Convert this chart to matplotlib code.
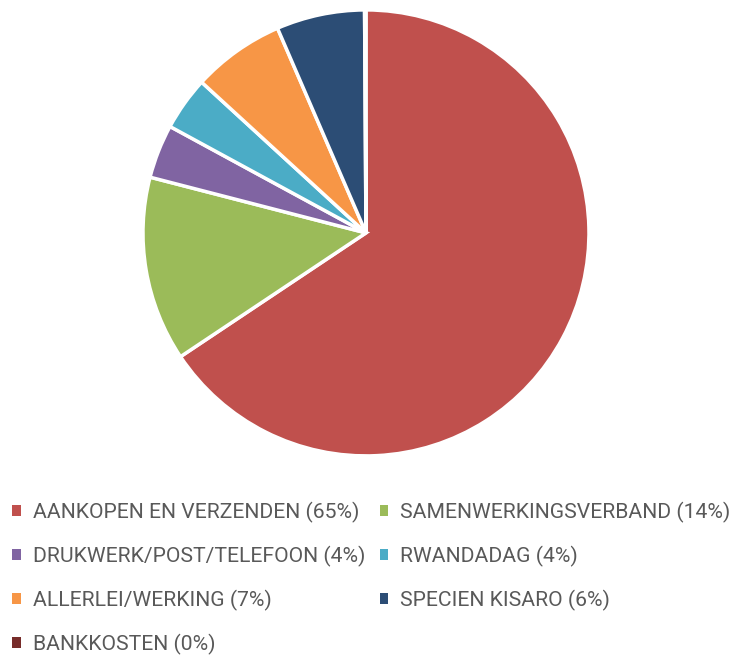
import matplotlib.pyplot as plt
from matplotlib.patches import Patch

# slice data (clockwise from 12 o'clock)
labels = ['AANKOPEN EN VERZENDEN', 'SAMENWERKINGSVERBAND', 'DRUKWERK/POST/TELEFOON',
          'RWANDADAG', 'ALLERLEI/WERKING', 'SPECIEN KISARO', 'BANKKOSTEN']
shares = [65.7, 13.4, 3.9, 3.9, 6.7, 6.4, 0.1]
shown_pct = ['65%', '14%', '4%', '4%', '7%', '6%', '0%']
colors = ['#C0504D', '#9BBB59', '#8064A2', '#4BACC6', '#F79646', '#2C4D75', '#772C2A']

plt.rcParams['font.family'] = ['Roboto', 'DejaVu Sans']

fig = plt.figure(figsize=(7.34, 6.57), dpi=100)
ax = fig.add_axes([0.1948, 0.306, 0.6076, 0.679])

ax.pie(shares, colors=colors, startangle=90, counterclock=False, radius=1,
       wedgeprops=dict(edgecolor='white', linewidth=2.5))
ax.set_xlim(-1, 1)
ax.set_ylim(-1, 1)
ax.set_aspect('equal')

# legend, row-major order like the original
handles = [Patch(facecolor=c, edgecolor='none') for c in colors]
texts = ['{} ({})'.format(l, p) for l, p in zip(labels, shown_pct)]
order = [0, 2, 4, 6, 1, 3, 5]
fig.legend([handles[i] for i in order], [texts[i] for i in order],
           loc='upper left', bbox_to_anchor=(0.017, 0.236), ncol=2,
           frameon=False, fontsize=15.2, labelcolor='#595959',
           handlelength=0.4, handleheight=0.4, handletextpad=0.55,
           columnspacing=0.7, labelspacing=1.08, borderpad=0, borderaxespad=0)

plt.savefig('out.png', dpi=100)
